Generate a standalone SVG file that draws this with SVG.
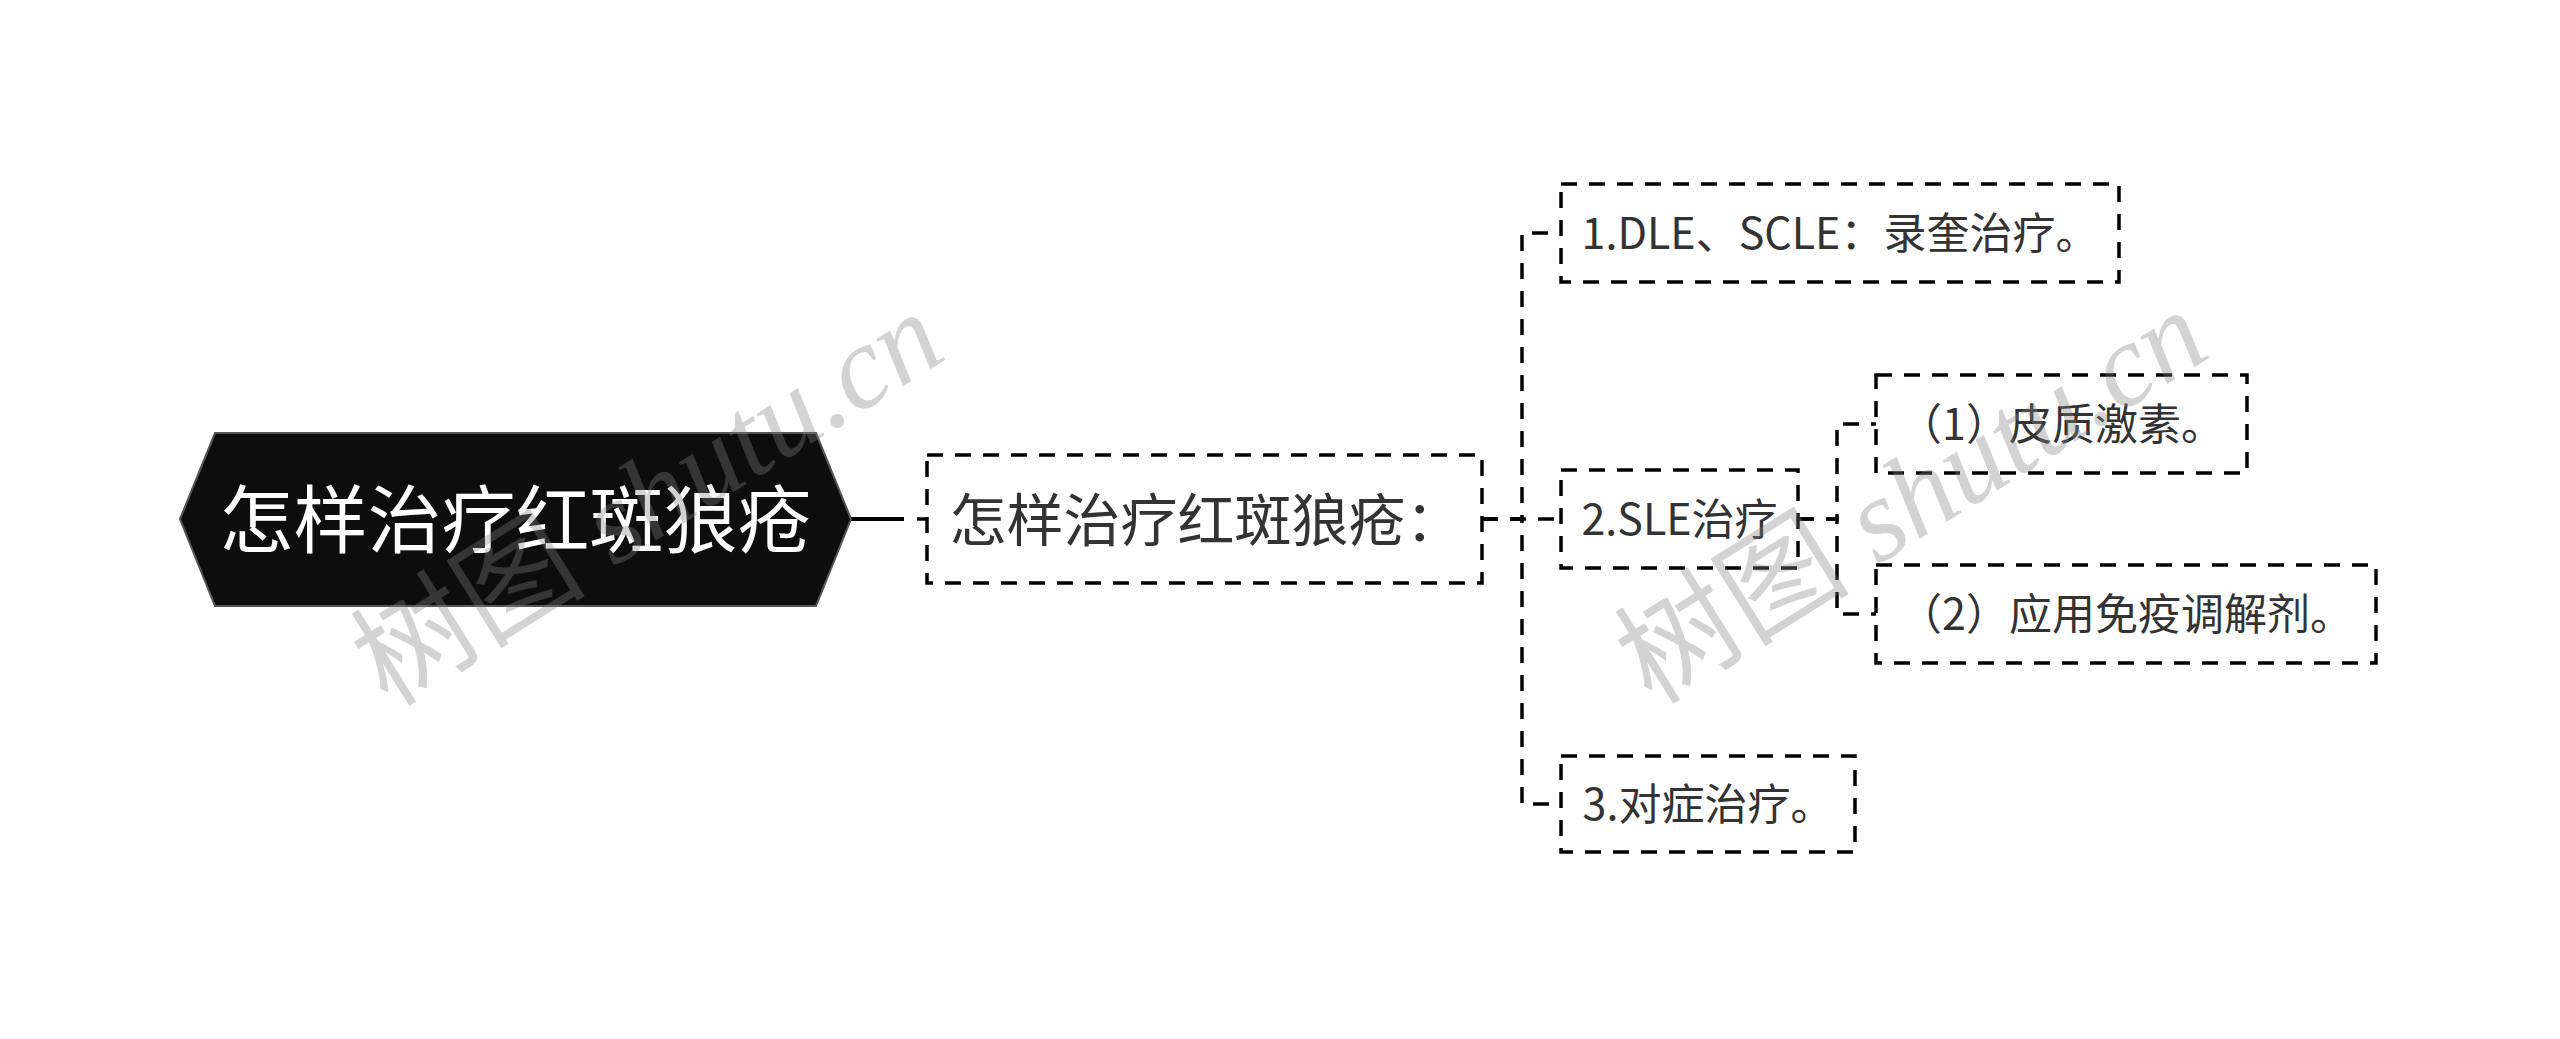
<svg xmlns="http://www.w3.org/2000/svg" width="2560" height="1039" viewBox="0 0 2560 1039">
<style>
.box{fill:#fff;stroke:#000;stroke-width:3.5;stroke-dasharray:16 12}
.con{fill:none;stroke:#000;stroke-width:3.5;stroke-dasharray:16 12}
.t{font-family:"Noto Sans CJK SC","Noto Sans",sans-serif;fill:#333;text-anchor:middle}
.wm{font-family:"Liberation Serif","Noto Sans CJK SC",serif;fill:#808080;fill-opacity:0.35;font-size:118px}
</style>
<rect width="2560" height="1039" fill="#fff"/>
<g id="connectors">
<line x1="851" y1="519" x2="904" y2="519" stroke="#000" stroke-width="4"/>
<line x1="917" y1="519" x2="927" y2="519" stroke="#000" stroke-width="3.5"/>
<path class="con" d="M1482,519 H1522 V233 H1561"/>
<path class="con" d="M1482,519 H1561"/>
<path class="con" d="M1482,519 H1522 V804 H1561"/>
<path class="con" d="M1798,519 H1837 V424 H1876"/>
<path class="con" d="M1798,519 H1837 V614 H1876"/>
</g>
<g id="root">
<polygon points="180,519 215,433 816,433 851,519 816,606 215,606" fill="#0d0d0d" stroke="#555" stroke-width="2"/>
<text class="t" x="515.5" y="547" font-size="74" style="fill:#fff">怎样治疗红斑狼疮</text>
</g>
<g id="subject">
<rect class="box" x="927" y="455" width="555" height="128"/>
<text class="t" x="1206" y="541" font-size="57">怎样治疗红斑狼疮：</text>
</g>
<g id="n1">
<rect class="box" x="1561" y="184" width="558" height="98"/>
<text class="t" x="1840" y="249" font-size="43">1.DLE、SCLE：录奎治疗。</text>
</g>
<g id="n2">
<rect class="box" x="1561" y="470" width="237" height="98"/>
<text class="t" x="1679.5" y="535" font-size="43">2.SLE治疗</text>
</g>
<g id="n2a">
<rect class="box" x="1876" y="375" width="371" height="98"/>
<text class="t" x="2061.5" y="440" font-size="43">（1）皮质激素。</text>
</g>
<g id="n2b">
<rect class="box" x="1876" y="565" width="500" height="98"/>
<text class="t" x="2126" y="630" font-size="43">（2）应用免疫调解剂。</text>
</g>
<g id="n3">
<rect class="box" x="1561" y="756" width="294" height="96"/>
<text class="t" x="1708" y="820" font-size="43">3.对症治疗。</text>
</g>
<g id="watermark">
<text class="wm" x="388" y="708" transform="rotate(-32 388 708)">树图 <tspan font-style="italic">shutu.cn</tspan></text>
<text class="wm" x="1652" y="706" transform="rotate(-32 1652 706)">树图 <tspan font-style="italic">shutu.cn</tspan></text>
</g>
</svg>
